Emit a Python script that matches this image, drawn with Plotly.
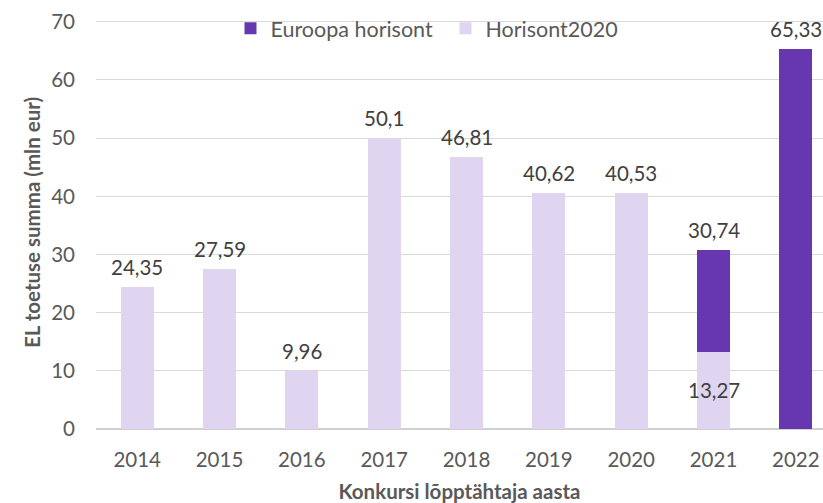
import plotly.graph_objects as go

years = ["2014", "2015", "2016", "2017", "2018", "2019", "2020", "2021", "2022"]
horisont2020 = [24.35, 27.59, 9.96, 50.1, 46.81, 40.62, 40.53, 13.27, 0]
euroopa_horisont = [0, 0, 0, 0, 0, 0, 0, 17.47, 65.33]
y_ticks = [0, 10, 20, 30, 40, 50, 60, 70]

DARK = "#6737B0"
LIGHT = "#DFD5F1"
TXT = "#595959"
LBL = "#404040"
FONT = "Lato"
FS = 20.5

def fmt(v):
    return f"{round(v, 2):g}".replace(".", ",")

fig = go.Figure()
fig.add_trace(go.Bar(x=years, y=horisont2020, name="Horisont2020",
                     marker=dict(color=LIGHT, line=dict(width=0)),
                     legendrank=2, width=0.4))
fig.add_trace(go.Bar(x=years, y=euroopa_horisont, name="Euroopa horisont",
                     marker=dict(color=DARK, line=dict(width=0)),
                     legendrank=1, width=0.4))

totals = [a + b for a, b in zip(horisont2020, euroopa_horisont)]
annotations = []
for i, t in enumerate(totals):
    annotations.append(dict(x=i, y=t, xref="x", yref="y", text=fmt(t), showarrow=False,
                            yanchor="middle", yshift=20,
                            font=dict(family=FONT, size=FS, color=LBL)))
# inner label for stacked 2021 segment
for i, (h, e) in enumerate(zip(horisont2020, euroopa_horisont)):
    if h > 0 and e > 0:
        annotations.append(dict(x=i, y=h / 2, xref="x", yref="y", text=fmt(h),
                                showarrow=False, yanchor="middle",
                                font=dict(family=FONT, size=FS, color=LBL)))

fig.update_layout(
    barmode="stack",
    width=823, height=503,
    margin=dict(l=96, r=0, t=15.7, b=74, autoexpand=False),
    plot_bgcolor="white", paper_bgcolor="white",
    font=dict(family=FONT, size=FS, color=TXT),
    showlegend=True,
    legend=dict(orientation="h", x=0.185, xanchor="left", y=0.97, yanchor="middle",
                font=dict(family=FONT, size=21.5, color=TXT),
                bgcolor="rgba(0,0,0,0)", itemwidth=30, entrywidth=170,
                traceorder="normal"),
    annotations=annotations,
)
fig.update_xaxes(type="category", range=[-0.5, 8.33], showgrid=False, showline=False,
                 ticks="", ticklabelstandoff=16,
                 tickfont=dict(family=FONT, size=FS, color=TXT),
                 title=dict(text="<b>Konkursi lõpptähtaja aasta</b>", standoff=18,
                            font=dict(family=FONT, size=FS, color=TXT)))
fig.update_yaxes(range=[0, 71], tickvals=y_ticks, showgrid=True, gridcolor="#D9D9D9",
                 gridwidth=1, zeroline=True, zerolinecolor="#D0D0D0", zerolinewidth=1.5,
                 showline=False, ticks="", ticklabelstandoff=20,
                 tickfont=dict(family=FONT, size=FS, color=TXT),
                 title=dict(text="<b>EL toetuse summa (mln eur)</b>", standoff=5,
                            font=dict(family=FONT, size=FS, color=TXT)))

fig.write_html("out.html", config={"displayModeBar": False},
               post_script="document.body.style.margin='0';document.body.style.overflow='hidden';")
